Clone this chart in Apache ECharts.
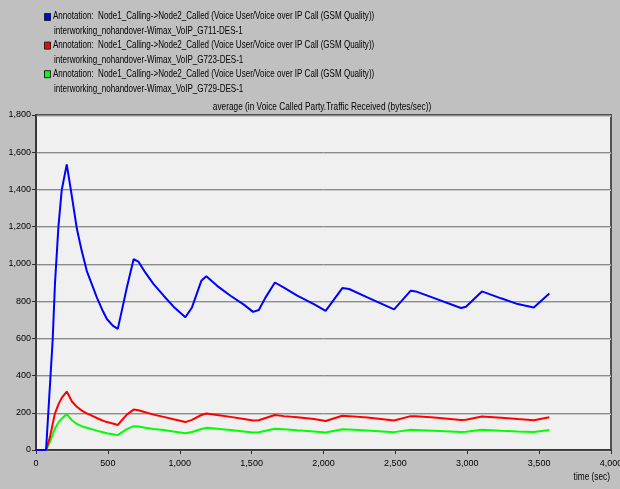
<!DOCTYPE html>
<html>
<head>
<meta charset="utf-8">
<script src="https://cdn.jsdelivr.net/npm/echarts@6/dist/echarts.min.js"></script>
<style>
  html, body { margin: 0; padding: 0; background: #c0c0c0; }
  #chart { width: 620px; height: 489px; }
</style>
</head>
<body>
<div id="chart"></div>
<script>
// Simulation time (sec) at which the statistic was sampled
const times = [0, 70, 98, 116, 132, 156, 179, 214, 249, 284, 318, 353, 388, 423, 458, 493, 534, 569,
  597, 632, 679, 713, 760, 818, 888, 957, 1039, 1085, 1150, 1185, 1260, 1353, 1446, 1510, 1550,
  1597, 1662, 1725, 1817, 1933, 2015, 2131, 2178, 2305, 2491, 2607, 2642, 2770, 2956, 2991,
  3102, 3235, 3351, 3463, 3571];

// Voice Called Party.Traffic Received (bytes/sec), running average
const g711 = [0, 0, 360, 591, 895, 1200, 1397, 1535, 1365, 1190, 1070, 963, 891, 820, 758, 704, 668, 651,
  749, 873, 1025, 1012, 954, 891, 829, 770, 713, 766, 909, 934, 882, 829, 781, 742, 752,
  820, 900, 873, 830, 784, 748, 870, 865, 820, 756, 856, 852, 816, 763, 770,
  852, 815, 784, 766, 841];
const g723 = [0, 0, 72, 140, 197, 245, 280, 314, 262, 232, 212, 197, 185, 172, 160, 150, 142, 134,
  160, 190, 217, 214, 203, 190, 178, 165, 150, 162, 188, 196, 188, 178, 167, 158, 160,
  172, 188, 182, 176, 166, 156, 184, 182, 174, 159, 182, 181, 175, 161, 162,
  180, 173, 166, 160, 176];
const g729 = [0, 0, 45, 82, 116, 148, 168, 193, 160, 140, 128, 120, 112, 104, 97, 90, 85, 80,
  95, 112, 128, 126, 120, 113, 107, 99, 90, 97, 113, 119, 114, 107, 100, 94, 95,
  103, 114, 111, 106, 100, 94, 111, 110, 105, 96, 109, 108, 104, 97, 98,
  109, 104, 100, 97, 107];

const seriesNames = [
  'interworking_nohandover-Wimax_VoIP_G711-DES-1',
  'interworking_nohandover-Wimax_VoIP_G723-DES-1',
  'interworking_nohandover-Wimax_VoIP_G729-DES-1'
];
const annotation = 'Annotation:  Node1_Calling->Node2_Called (Voice User/Voice over IP Call (GSM Quality))';
const colors = ['#0000ff', '#ff0000', '#00ff00'];
const chartTitle = 'average (in Voice Called Party.Traffic Received (bytes/sec))';
const xName = 'time (sec)';

const FONT = '"Liberation Sans", Arial, sans-serif';
const NARROW_LEGEND = 0.765; // horizontal squeeze for the condensed UI font look
const NARROW = 0.79;

const pairs = arr => times.map((t, i) => [t, arr[i]]);
const fmt = v => v.toLocaleString('en-US');

// legend block drawn as graphic: swatch + two text lines per entry
const legendGraphics = [];
seriesNames.forEach((name, i) => {
  const y0 = 13 + i * 28.6;
  legendGraphics.push({
    type: 'rect', left: 44, top: y0,
    shape: { width: 6, height: 7 },
    style: { fill: colors[i], stroke: '#202020', lineWidth: 1 }
  });
  legendGraphics.push({
    type: 'text', x: 53, y: y0 - 2, scaleX: NARROW_LEGEND,
    style: { text: annotation, font: '10.5px ' + FONT, fill: '#000' }
  });
  legendGraphics.push({
    type: 'text', x: 54, y: y0 + 13, scaleX: NARROW_LEGEND,
    style: { text: name, font: '10.5px ' + FONT, fill: '#000' }
  });
});

const chart = echarts.init(document.getElementById('chart'), null, { renderer: 'canvas' });
chart.setOption({
  backgroundColor: '#c0c0c0',
  animation: false,
  grid: {
    left: 36, right: 9, top: 115, bottom: 39,
    outerBoundsMode: 'none',
    show: true, backgroundColor: '#f0f0f0', borderColor: '#505050', borderWidth: 2
  },
  graphic: legendGraphics.concat([
    {
      type: 'text', x: 322, y: 102, scaleX: NARROW,
      style: { text: chartTitle, font: '10.5px ' + FONT, fill: '#000', textAlign: 'center' }
    },
    {
      type: 'text', x: 610, y: 472, scaleX: NARROW,
      style: { text: xName, font: '10.5px ' + FONT, fill: '#000', textAlign: 'right' }
    }
  ]),
  xAxis: {
    type: 'value', min: 0, max: 4000, interval: 500,
    axisLine: { show: true, lineStyle: { color: '#303030', width: 1.5 } },
    axisTick: { show: true, length: 4, lineStyle: { color: '#303030' } },
    axisLabel: { color: '#000', fontFamily: FONT, fontSize: 9, margin: 9, formatter: fmt },
    splitLine: { show: false }
  },
  yAxis: {
    type: 'value', min: 0, max: 1800, interval: 200,
    axisLine: { show: true, lineStyle: { color: '#303030', width: 1.5 } },
    axisTick: { show: true, length: 4, lineStyle: { color: '#303030' } },
    axisLabel: { color: '#000', fontFamily: FONT, fontSize: 9, margin: 5, formatter: fmt },
    splitLine: { show: true, lineStyle: { color: '#8c8c8c', width: 1, shadowColor: '#cacaca', shadowOffsetY: 1 } }
  },
  series: [g711, g723, g729].map((arr, i) => ({
    name: seriesNames[i],
    type: 'line',
    data: pairs(arr),
    symbol: 'none',
    lineStyle: { color: colors[i], width: 2 },
    z: 3 - i
  }))
});
</script>
</body>
</html>
